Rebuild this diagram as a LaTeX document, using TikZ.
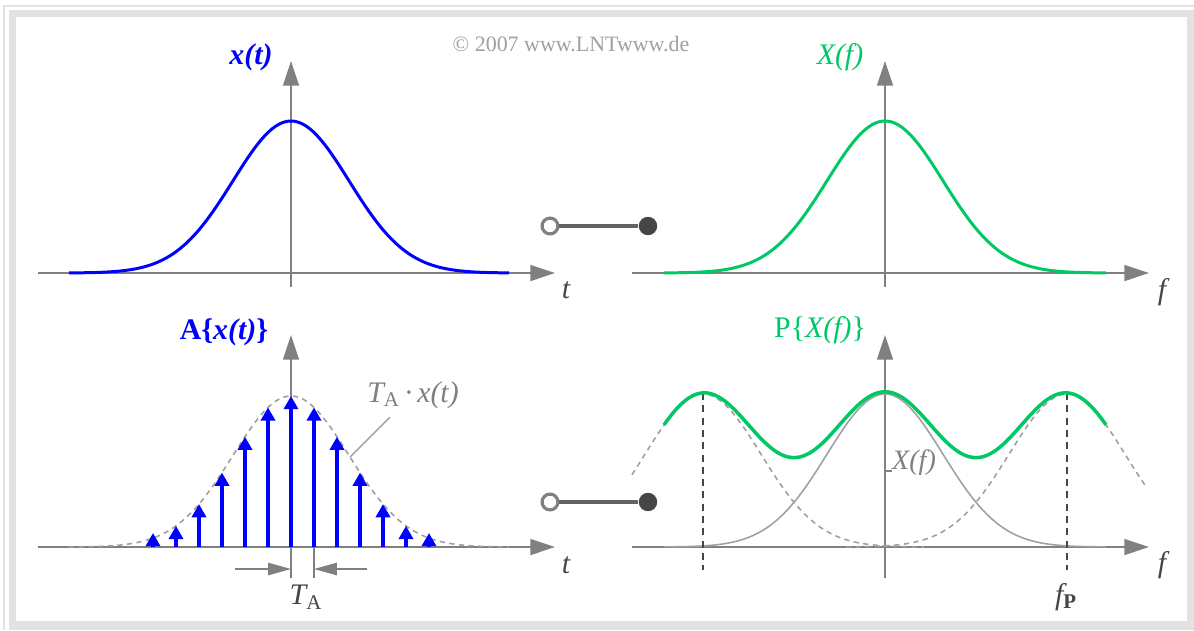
\documentclass[tikz,border=0pt]{standalone}
\usepackage{fontspec}
\setmainfont{Liberation Serif}
\usetikzlibrary{arrows.meta,positioning}
\definecolor{lntblue}{RGB}{0,0,255}
\definecolor{lntgreen}{RGB}{0,200,100}
\definecolor{lntgray}{RGB}{128,128,128}
\definecolor{lntlight}{RGB}{160,160,160}
\definecolor{lntdark}{RGB}{70,70,70}
\definecolor{lntframe}{RGB}{226,226,226}
\pgfmathdeclarefunction{gauss}{1}{\pgfmathparse{exp(-0.5*((#1)/58)^2)}}
\tikzset{
  axisline/.style={lntgray, line width=1.2pt, -{Triangle[length=14pt,width=9pt]}},
  lbl/.style={font=\fontsize{17}{20}\selectfont, inner sep=0pt},
  pulse/.style={lntblue, line width=2.2pt, -{Triangle[length=7.5pt,width=8pt]}},
  dimarrow/.style={lntgray, line width=0.9pt, -{Triangle[length=13pt,width=7pt]}},
  envelope/.style={lntlight, line width=0.9pt, dash pattern=on 3pt off 2.5pt},
  opendot/.style={circle, draw=lntgray, fill=white, line width=1.8pt, minimum size=9pt, inner sep=0pt},
  filldot/.style={circle, fill=lntdark, minimum size=10.5pt, inner sep=0pt},
  link/.style={draw=lntdark!85, line width=2.2pt}
}
\begin{document}
\begin{tikzpicture}[x=0.02cm, y=-0.02cm]
  \useasboundingbox (0,0) rectangle (1194,630);
  % frame
  \fill[lntframe] (9,10) rectangle (1194,630);
  \fill[white] (16,17) rectangle (1187,621);
  \draw[lntframe, line width=1.1pt] (4,630) -- (4,6) -- (1194,6);
  \node[font=\fontsize{12.5}{14}\selectfont, text=lntlight] (copy) at (571,44) {© 2007 www.LNTwww.de};
  % time signal x(t)
  \draw[axisline] (38,273) -- (555,273);
  \draw[axisline] (291,287) -- (291,61);
  \draw[lntblue, line width=1.7pt] plot[domain=69:509, samples=120] (\x, {273-152*gauss(\x-291)});
  \node[lbl, lntblue] (xt) at (251,57) {\bfseries\itshape x(t)};
  \node[lbl, lntdark] (tax1) at (566,290) {\itshape t};
  % spectrum X(f)
  \draw[axisline] (632,273) -- (1149,273);
  \draw[axisline] (885,287) -- (885,61);
  \draw[lntgreen, line width=1.7pt] plot[domain=664:1106, samples=120] (\x, {273-152*gauss(\x-885)});
  \node[lbl, lntgreen] (xf) at (840,57) {\itshape X(f)};
  \node[lbl, lntdark] (fax1) at (1162,292) {\itshape f};
  % correspondence symbols
  \node[opendot] (c1) at (550,226) {};
  \node[filldot] (d1) at (648,226) {};
  \draw[link] (c1) -- (d1);
  \node[opendot] (c2) at (550,502) {};
  \node[filldot] (d2) at (648,502) {};
  \draw[link] (c2) -- (d2);
  % sampled signal
  \draw[axisline] (38,547) -- (555,547);
  \draw[axisline] (291,578) -- (291,335);
  \draw[envelope] plot[domain=69:509, samples=120] (\x, {547-151*gauss(\x-291)});
  \foreach \n in {-6,...,6}{
    \pgfmathsetmacro{\xa}{291+23*\n}
    \pgfmathsetmacro{\ha}{max(151*gauss(23*\n),14)}
    \draw[pulse] (\xa,547) -- (\xa,{547-\ha});
  }
  \node[lbl, lntblue] (axt) at (224,332) {\bfseries A\{\itshape x(t)\upshape\}};
  \node[lbl, lntgray] (tax) at (413,395) {\itshape T\textsubscript{\upshape A}\,\textperiodcentered\,x(t)};
  \coordinate (tastart) at (390,417);
  \coordinate (taend) at (350,457);
  \draw[lntlight, line width=0.8pt] (tastart) -- (taend);
  \draw[lntgray, line width=1.2pt] (314,547) -- (314,578);
  \coordinate (ta1) at (291,569);
  \coordinate (ta2) at (314,569);
  \draw[dimarrow] (235,569) -- (ta1);
  \draw[dimarrow] (367,569) -- (ta2);
  \node[lbl, lntdark] (talab) at (306,597) {\itshape T\textsubscript{\upshape A}};
  \node[lbl, lntdark] (tax2) at (566,565) {\itshape t};
  % periodic spectrum
  \draw[axisline] (632,547) -- (1149,547);
  \draw[axisline] (885,578) -- (885,335);
  \draw[envelope] plot[domain=632:924, samples=80] (\x, {547-153*gauss(\x-703)});
  \draw[envelope] plot[domain=846:1145, samples=80] (\x, {547-153*gauss(\x-1067)});
  \draw[lntlight, line width=0.9pt] plot[domain=664:1106, samples=120] (\x, {547-153*gauss(\x-885)});
  \draw[lntdark, line width=0.8pt, dash pattern=on 4pt off 3pt] (703,393) -- (703,570);
  \draw[lntdark, line width=0.8pt, dash pattern=on 4pt off 3pt] (1067,393) -- (1067,570);
  \draw[lntgreen, line width=2pt] plot[domain=664:1106, samples=150]
    (\x, {547-153*(gauss(\x-885)+gauss(\x-703)+gauss(\x-1067))});
  \node[lbl, lntgreen] (pxf) at (820,330) {P\{\itshape X(f)\upshape\}};
  \node[lbl, lntgray, font=\fontsize{16}{18}\selectfont] (xfl) at (914,463) {\itshape X(f)};
  \coordinate (xftick) at (885,471);
  \draw[lntgray, line width=0.6pt] (xftick) -- (xftick -| xfl.west);
  \node[lbl, lntdark] (fplab) at (1066,597) {\itshape f\textsubscript{\upshape\bfseries P}};
  \node[lbl, lntdark] (fax2) at (1162,565) {\itshape f};
\end{tikzpicture}
\end{document}
